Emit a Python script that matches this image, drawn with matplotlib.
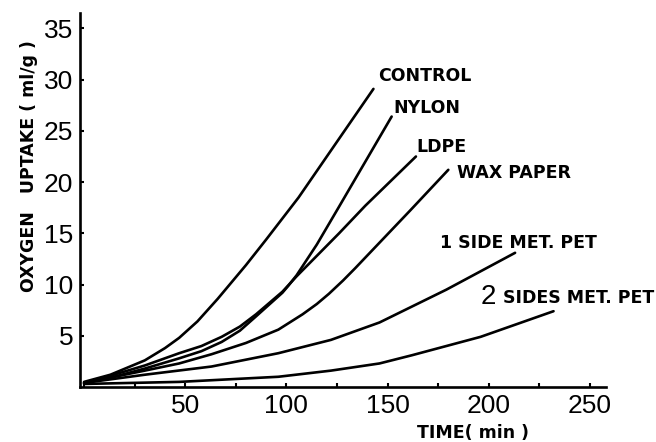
from matplotlib import pyplot as plt
from matplotlib.ticker import MultipleLocator

# valores (tiempo en min, consumo de oxigeno en ml/g)
control_t = [0, 13, 30, 40, 47, 56, 66, 80, 90, 106, 121, 143]
control_v = [0.5, 1.2, 2.6, 3.8, 4.8, 6.4, 8.6, 11.9, 14.4, 18.5, 22.8, 29.1]

nylon_t = [0, 13, 30, 47, 58, 68, 77, 85, 98, 101, 105, 110, 115, 126, 152]
nylon_v = [0.4, 0.9, 1.8, 2.8, 3.5, 4.4, 5.5, 6.9, 9.2, 9.9, 10.9, 12.4, 13.9, 17.6, 26.4]

ldpe_t = [0, 13, 30, 47, 58, 68, 77, 85, 98, 105, 113, 126, 139, 164]
ldpe_v = [0.4, 1.1, 2.1, 3.3, 4.0, 4.9, 5.9, 7.1, 9.3, 10.8, 12.4, 15.0, 17.7, 22.5]

wax_t = [0, 30, 47, 63, 80, 96, 108, 115, 121, 128, 134, 161, 180]
wax_v = [0.4, 1.6, 2.3, 3.2, 4.3, 5.6, 7.1, 8.1, 9.1, 10.4, 11.6, 17.2, 21.2]

met1_t = [0, 30, 63, 96, 122, 146, 179, 213]
met1_v = [0.4, 1.2, 2.0, 3.3, 4.6, 6.3, 9.5, 13.1]

met2_t = [0, 47, 96, 122, 146, 162, 196, 232]
met2_v = [0.3, 0.5, 1.0, 1.6, 2.3, 3.1, 4.9, 7.4]

x_ticks = [50, 100, 150, 200, 250]
y_ticks = [5, 10, 15, 20, 25, 30, 35]

num_font = ['Liberation Sans', 'DejaVu Sans']

fig = plt.figure(figsize=(6.56, 4.42), dpi=100)
ax = fig.add_axes([0.122, 0.1244, 0.802, 0.846])

curvas = [
    (control_t, control_v, 'CONTROL', (5, 13)),
    (nylon_t, nylon_v, 'NYLON', (2, 9)),
    (ldpe_t, ldpe_v, 'LDPE', (0, 10)),
    (wax_t, wax_v, 'WAX PAPER', (9, -3)),
    (met1_t, met1_v, '1 SIDE MET. PET', (-75, 10)),
    (met2_t, met2_v, 'SIDES MET. PET', (-51, 13)),
]

for t, v, nombre, off in curvas:
    ax.plot(t, v, color='black', lw=1.9, solid_capstyle='round',
            solid_joinstyle='round')
    ax.annotate(nombre, xy=(t[-1], v[-1]), xytext=off,
                textcoords='offset pixels', ha='left', va='center',
                fontsize=12.5, fontweight='bold')

# el "2" va mas grande en el original
ax.annotate('2', xy=(met2_t[-1], met2_v[-1]), xytext=(-73, 14),
            textcoords='offset pixels', ha='left', va='center',
            fontsize=20, family=num_font)

ax.set_xlim(-2, 258)
ax.set_ylim(0, 36.5)

ax.spines['top'].set_visible(False)
ax.spines['right'].set_visible(False)
ax.spines['left'].set_linewidth(1.9)
ax.spines['bottom'].set_linewidth(1.9)

ax.set_xticks(x_ticks)
ax.set_yticks(y_ticks)
ax.xaxis.set_minor_locator(MultipleLocator(25))
ax.tick_params(axis='both', which='both', direction='in', length=3,
               width=1.5, labelsize=19, pad=5)
for lbl in ax.get_xticklabels() + ax.get_yticklabels():
    lbl.set_family(num_font)

ax.set_ylabel('OXYGEN   UPTAKE ( ml/g )', fontsize=12.5, fontweight='bold')
ax.yaxis.set_label_coords(-0.08, 0.59)
ax.set_xlabel('TIME( min )', fontsize=12.5, fontweight='bold')
ax.xaxis.set_label_coords(0.747, -0.123)
ax.xaxis.label.set_va('center')

plt.savefig('out.png', dpi=100)
